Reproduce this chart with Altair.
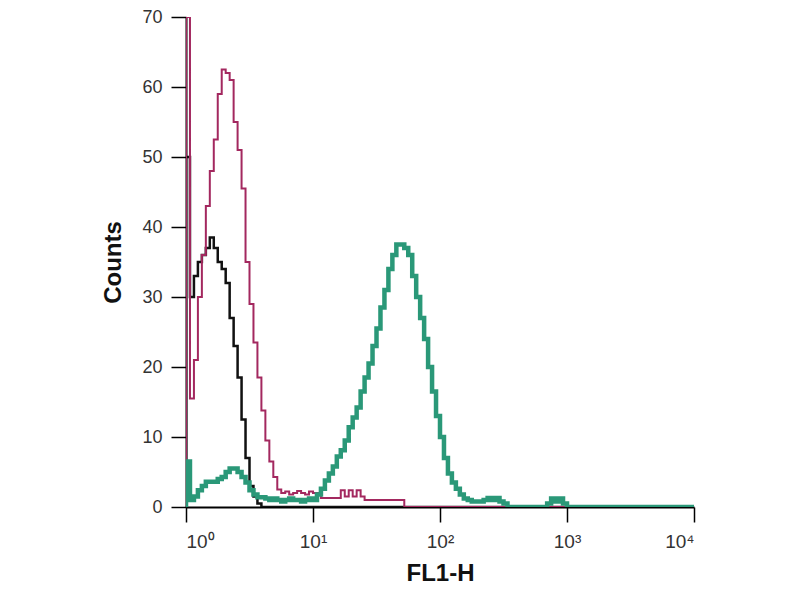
import altair as alt
import pandas as pd

# Histogram channels: 32 bins per decade (log10 width 1/32), starting at 10^0
BINS_PER_DECADE = 32
N_BINS = 128

black_counts = [50, 30, 33, 35, 36, 37, 38.5, 37, 35, 34, 32, 27, 23, 18.5, 12.5, 7, 3, 1.5, 0.5]

magenta_counts = [70, 15.5, 21, 30, 36, 43, 48, 52.5, 59, 62.5, 62, 61, 55, 51, 45.5, 35, 29, 23.5,
                  18.5, 13.8, 9.5, 6.5, 4.3, 2.5, 2, 2.2, 1.8, 2, 2.3, 2, 1.8, 2.2, 2, 2,
                  1.3, 1.3, 1.3, 1.3, 1.3, 2.4, 1.5, 2.4, 1.5, 2.4, 1.5,
                  1, 1, 1, 1, 1, 1, 1, 1, 1, 1]

teal_counts = [6.5, 1.0, 1.5, 2.4, 3.0, 3.6, 3.6, 3.6, 4.0, 4.3, 5.0, 5.5, 5.5, 5.0, 4.3, 3.5, 2.4,
               1.8, 1.4, 1.4, 1.2,
               1.0, 1.2, 1.0, 0.8, 1.0, 1.2, 1.0, 1.0, 0.8, 1.0, 1.2, 1.0,
               1.8, 2.6, 3.8, 4.8, 5.8, 7.2, 8.1, 9.5, 11.4, 12.8, 14.2, 16.5, 18.5, 20.5, 23,
               25.5, 28.5, 31, 34, 36, 37.5, 37.5, 37, 36, 33, 30, 27, 24, 20, 16.5, 13, 10, 7,
               4.8, 3.5, 2.6, 1.8, 1.2, 1.0, 0.8, 0.8, 0.8, 1.0, 1.3, 1.0, 1.3, 0.8, 0.5,
               0, 0, 0, 0, 0, 0, 0, 0, 0, 0,
               0.5, 1.2, 0.8, 1.2, 0.5]

x_tick_values = [1, 10, 100, 1000, 10000]
x_tick_sup = ["⁰", "¹", "²", "³", "⁴"]
y_tick_values = [0, 10, 20, 30, 40, 50, 60, 70]

series_colors = {"control": "#111111", "isotype": "#A3285F", "antibody": "#2A9878"}
series_widths = {"control": 2.5, "isotype": 2.0, "antibody": 4.5}


def build(counts, name):
    vals = list(counts) + [0] * (N_BINS - len(counts))
    rows = [{"x": 1.0, "y": 0.0, "o": 0, "s": name}]
    for i, v in enumerate(vals):
        rows.append({"x": 10 ** (i / BINS_PER_DECADE), "y": v, "o": i + 1, "s": name})
    rows.append({"x": 10 ** (N_BINS / BINS_PER_DECADE), "y": vals[-1], "o": N_BINS + 1, "s": name})
    return pd.DataFrame(rows)


label_expr = "'10' + " + str(x_tick_sup).replace('"', "'") + "[round(log(datum.value)/LN10)]"

xenc = alt.X("x:Q", scale=alt.Scale(type="log", domain=[1, 10000]),
             axis=alt.Axis(values=x_tick_values, labelExpr=label_expr, title="FL1-H",
                           grid=False, tickSize=15, tickColor="#000", tickWidth=1.5,
                           domainColor="#000", domainWidth=2, labelFont="Liberation Sans",
                           labelFontSize=19, labelColor="#333", labelPadding=10,
                           titleFont="Liberation Sans", titleFontSize=24, titleFontWeight="bold",
                           titleColor="#111", titlePadding=10))
yenc = alt.Y("y:Q", scale=alt.Scale(domain=[0, 70], nice=False),
             axis=alt.Axis(values=y_tick_values, title="Counts", grid=False, tickSize=15,
                           tickColor="#000", tickWidth=1.5, domainColor="#000", domainWidth=2,
                           labelFont="Liberation Sans", labelFontSize=18, labelColor="#333",
                           labelPadding=9, titleFont="Liberation Sans", titleFontSize=24,
                           titleFontWeight="bold", titleColor="#111", titlePadding=16))

layers = []
for name, counts in [("control", black_counts), ("isotype", magenta_counts), ("antibody", teal_counts)]:
    layers.append(
        alt.Chart(build(counts, name)).mark_line(
            interpolate="step-after", color=series_colors[name],
            strokeWidth=series_widths[name], clip=True
        ).encode(x=xenc, y=yenc, order="o:Q")
    )

chart = alt.layer(*layers).properties(
    width=508, height=490,
    background="white",
    autosize=alt.AutoSizeParams(type="none"),
    padding={"left": 178, "top": 9, "right": 30, "bottom": 90},
).configure_view(stroke="transparent", strokeWidth=0)

chart.save("out.html", embed_options={"renderer": "svg", "actions": False})
